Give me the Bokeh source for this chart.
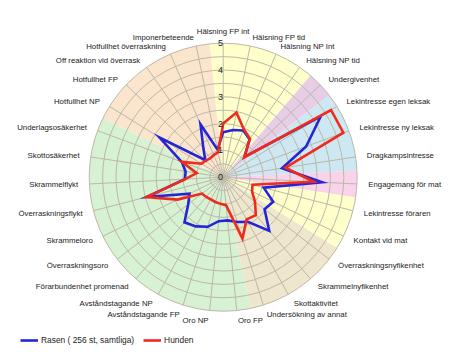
import numpy as np
from bokeh.plotting import figure
from bokeh.models import Legend, LegendItem
from bokeh.core.properties import value
from bokeh.embed import file_html
from bokeh.resources import INLINE

# ---------------- data ----------------
categories = [
    "Hälsning FP int", "Hälsning FP tid", "Hälsning NP Int", "Hälsning NP tid",
    "Undergivenhet", "Lekintresse egen leksak", "Lekintresse ny leksak",
    "Dragkampsintresse", "Engagemang för mat", "Lekintresse föraren",
    "Kontakt vid mat", "Överraskningsnyfikenhet", "Skrammelnyfikenhet",
    "Skottaktivitet", "Undersökning av annat", "Oro FP", "Oro NP",
    "Avståndstagande FP", "Avståndstagande NP", "Förarbundenhet promenad",
    "Överraskningsoro", "Skrammeloro", "Överraskningsflykt", "Skrammelflykt",
    "Skottosäkerhet", "Underlagsosäkerhet", "Hotfullhet NP", "Hotfullhet FP",
    "Off reaktion vid överrask", "Hotfullhet överraskning", "Imponerbeteende",
]
rasen = [1.68, 1.8, 1.9, 1.72, 1.1, 4.29, 3.3, 2.22, 3.7, 1.56, 2.08, 1.95,
         2.64, 1.9, 1.75, 1.62, 1.65, 1.94, 2.1, 2.22, 1.65, 1.4, 2.95, 1.43,
         1.42, 1.65, 2.8, 0.92, 1.29, 2.15, 1.05]
hunden = [2.0, 2.46, 1.95, 1.75, 1.08, 4.74, 4.78, 2.35, 3.38, 1.13, 1.2, 1.5,
          1.87, 1.8, 2.4, 1.05, 1.0, 0.97, 0.95, 0.97, 1.0, 1.9, 2.95, 1.42,
          1.0, 1.65, 0.95, 0.9, 0.85, 0.9, 0.95]
series_names = ["Rasen ( 256 st, samtliga)", "Hunden"]
tick_values = [0, 1, 2, 3, 4, 5]
tick_labels = ["0", "1", "2", "3", "4", "5"]
# background sectors: first and last category index of each group
sector_first = [0, 4, 5, 8, 9, 11, 15, 26]
sector_last = [3, 4, 7, 8, 10, 14, 25, 30]

# ---------------- styles ----------------
sector_colors = ["#ffffcc", "#e8cde6", "#cde8f3", "#f9d3e9",
                 "#ffffcc", "#efe7cd", "#d7f1d3", "#fbe6cd"]
blue = "#2525d8"
red = "#ee2b1c"
grid_color = "#bcb8a8"
font = "Liberation Sans"

W, H = 442, 352
cx, cy = 222.7, 176.7   # centre in figure pixels
scale = 26.8            # pixels per unit

p = figure(width=W, height=H,
           x_range=(-cx / scale, (W - cx) / scale),
           y_range=(-(H - cy) / scale, cy / scale),
           output_backend="svg", toolbar_location=None, min_border=0,
           x_axis_location=None, y_axis_location=None)
p.grid.visible = False
p.outline_line_color = None
p.background_fill_color = "white"
p.border_fill_color = "white"

N = len(categories)
step = 2 * np.pi / N
theta = np.arange(N) * step
rmax = tick_values[-1]

# sectors
t1 = (np.array(sector_first) - 0.5) * step
t2 = (np.array(sector_last) + 0.5) * step
p.wedge(x=0, y=0, radius=rmax, start_angle=np.pi / 2 - t2, end_angle=np.pi / 2 - t1,
        fill_color=sector_colors, line_color=None, direction="anticlock")

# grid rings
rings = np.arange(0.5, rmax + 0.01, 0.5)
p.circle(x=0, y=0, radius=rings, fill_color=None, line_color=grid_color, line_width=1)
# spokes
p.segment(x0=0, y0=0, x1=rmax * np.sin(theta), y1=rmax * np.cos(theta),
          line_color=grid_color, line_width=1)


def closed(vals):
    v = np.array(vals + vals[:1])
    t = np.append(theta, theta[0])
    return v * np.sin(t), v * np.cos(t)


bx, by = closed(rasen)
rx, ry = closed(hunden)
lb = p.line(bx, by, line_color=blue, line_width=2.6, line_join="miter")
lr = p.line(rx, ry, line_color=red, line_width=2.6, line_join="miter")

# category labels
R_lab = 5.42
c = np.cos(theta)
s = np.sin(theta)
off_px = np.where(c > 0, 3 * c, 1 * c)
lx = R_lab * s
ly = R_lab * c - off_px / scale
ly[0] = R_lab * c[0]
cats = np.array(categories)
for mask, align in [(np.abs(s) < 1e-9, "center"), (s > 1e-9, "left"), (s < -1e-9, "right")]:
    p.text(x=lx[mask], y=ly[mask], text=cats[mask], text_align=align,
           text_baseline="middle", text_font=value(font), text_font_size="7.8px",
           text_color="#222222")

# radial tick labels
p.text(x=[-0.1] * len(tick_values), y=tick_values, text=tick_labels,
       text_align="center", text_baseline="middle", text_font=value(font),
       text_font_size="9px", text_color="#222222")

legend = Legend(items=[LegendItem(label=series_names[0], renderers=[lb]),
                       LegendItem(label=series_names[1], renderers=[lr])],
                location=(20, 7), orientation="horizontal",
                label_text_font=font, label_text_font_size="8.4px",
                label_text_color="#222222", glyph_width=18, glyph_height=10,
                label_height=10, label_standoff=3, spacing=9, padding=0,
                margin=0, border_line_color=None, background_fill_alpha=0)
p.add_layout(legend)

open("out.html", "w").write(file_html(p, INLINE))
